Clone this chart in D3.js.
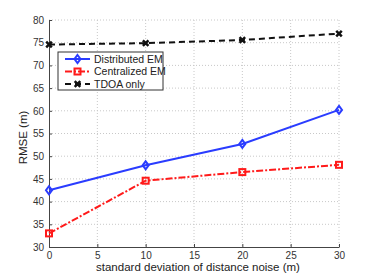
<!DOCTYPE html>
<html>
<head>
<style>
  body { margin: 0; background: #fff; }
  svg { font-family: "Liberation Sans", Arial, sans-serif; }
  .grid line { stroke: #c8c8c8; stroke-dasharray: 1,2; }
  .axis path, .axis line { stroke: #444; }
  .axis text { fill: #333; font-size: 10px; }
</style>
<script src="https://cdnjs.cloudflare.com/ajax/libs/d3/7.8.5/d3.min.js"></script>
</head>
<body>
<svg id="chart" width="374" height="277"></svg>
<script>
const noise = [0, 10, 20, 30];
const distributedEM = [42.5, 48.0, 52.7, 60.2];
const centralizedEM = [33.0, 44.6, 46.5, 48.1];
const tdoaOnly = [74.6, 74.9, 75.6, 77.0];
const xTicks = [0, 5, 10, 15, 20, 25, 30];
const yTicks = [30, 35, 40, 45, 50, 55, 60, 65, 70, 75, 80];

const svg = d3.select("#chart");
const plotLeft = 49, plotRight = 339, plotTop = 20, plotBottom = 247;

const x = d3.scaleLinear().domain([0, 30]).range([plotLeft, plotRight]);
const y = d3.scaleLinear().domain([30, 80]).range([plotBottom, plotTop]);

// grid
svg.append("g").attr("class", "grid")
  .selectAll("line").data(xTicks.slice(1)).enter().append("line")
  .attr("x1", d => x(d)).attr("x2", d => x(d))
  .attr("y1", plotTop).attr("y2", plotBottom);
svg.append("g").attr("class", "grid")
  .selectAll("line").data(yTicks.slice(1)).enter().append("line")
  .attr("x1", plotLeft).attr("x2", plotRight)
  .attr("y1", d => y(d)).attr("y2", d => y(d));

svg.append("g").attr("class", "axis")
  .attr("transform", "translate(0," + plotBottom + ")")
  .call(d3.axisBottom(x).tickValues(xTicks).tickSizeInner(-3).tickSizeOuter(0).tickPadding(5));
svg.append("g").attr("class", "axis")
  .attr("transform", "translate(" + plotLeft + ",0)")
  .call(d3.axisLeft(y).tickValues(yTicks).tickSizeInner(-3).tickSizeOuter(0).tickPadding(5));

svg.append("text").attr("x", (plotLeft + plotRight) / 2 + 4).attr("y", 271)
  .attr("text-anchor", "middle").attr("font-size", "11.5px").attr("fill", "#222")
  .text("standard deviation of distance noise (m)");
svg.append("text").attr("transform", "translate(27," + ((plotTop + plotBottom) / 2 + 4) + ") rotate(-90)")
  .attr("text-anchor", "middle").attr("font-size", "11.5px").attr("fill", "#222")
  .text("RMSE (m)");

const line = d3.line().x((d, i) => x(noise[i])).y(d => y(d));

const series = [
  { name: "Distributed EM", data: distributedEM, color: "#2a3cff", dash: null, marker: "diamond" },
  { name: "Centralized EM", data: centralizedEM, color: "#ff1a1a", dash: "7,2,2,2", marker: "square" },
  { name: "TDOA only", data: tdoaOnly, color: "#111", dash: "6,4", marker: "cross" }
];

function drawMarker(g, type, cx, cy, color) {
  if (type === "diamond") {
    g.append("path").attr("d", "M0,-4L3,0L0,4L-3,0Z")
      .attr("transform", "translate(" + cx + "," + cy + ")")
      .attr("fill", "none").attr("stroke", color).attr("stroke-width", 2);
  } else if (type === "square") {
    g.append("rect").attr("x", cx - 3).attr("y", cy - 3).attr("width", 6).attr("height", 6)
      .attr("fill", "none").attr("stroke", color).attr("stroke-width", 2);
  } else {
    g.append("path").attr("d", d3.symbol().type(d3.symbolX).size(22)())
      .attr("transform", "translate(" + cx + "," + cy + ")")
      .attr("fill", "none").attr("stroke", color).attr("stroke-width", 2.5);
  }
}

series.forEach(s => {
  svg.append("path").attr("d", line(s.data))
    .attr("fill", "none").attr("stroke", s.color).attr("stroke-width", 2)
    .attr("stroke-dasharray", s.dash);
  const g = svg.append("g");
  s.data.forEach((v, i) => drawMarker(g, s.marker, x(noise[i]), y(v), s.color));
});

// legend
const lg = svg.append("g");
lg.append("rect").attr("x", 58).attr("y", 52).attr("width", 105).attr("height", 38)
  .attr("fill", "#fff").attr("stroke", "#333").attr("stroke-width", 1);
series.forEach((s, i) => {
  const ly = 59 + i * 12.5;
  lg.append("line").attr("x1", 65).attr("x2", 90).attr("y1", ly).attr("y2", ly)
    .attr("stroke", s.color).attr("stroke-width", 2).attr("stroke-dasharray", s.dash);
  drawMarker(lg, s.marker, 77.5, ly, s.color);
  lg.append("text").attr("x", 94).attr("y", ly + 3.5).attr("font-size", "10.5px").attr("fill", "#222")
    .text(s.name);
});
</script>
</body>
</html>
